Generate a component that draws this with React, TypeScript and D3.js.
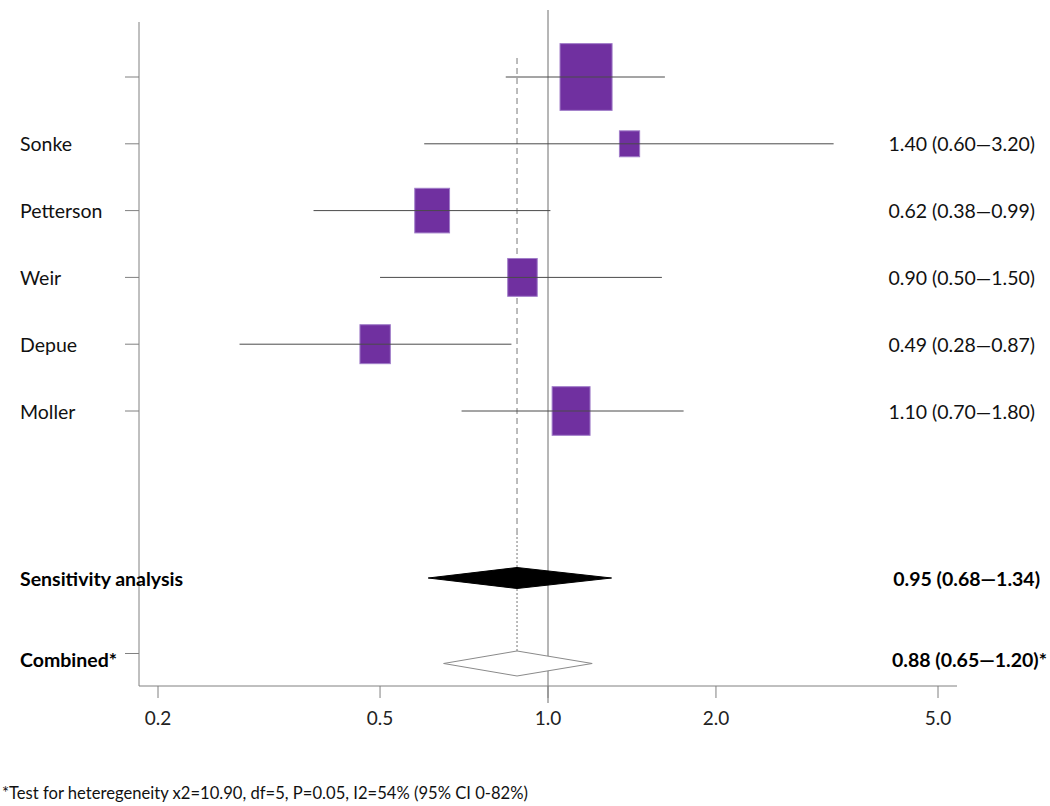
import React from "react";
import * as d3 from "d3";

// ---- data ----
const studyNames = ["", "Sonke", "Petterson", "Weir", "Depue", "Moller"];
const studyEstimates = [1.17, 1.4, 0.62, 0.9, 0.49, 1.1];
const studyLower = [0.84, 0.6, 0.38, 0.5, 0.28, 0.7];
const studyUpper = [1.62, 3.25, 1.01, 1.6, 0.86, 1.75];
const studyWeights = [35.8, 5.4, 16.0, 11.5, 12.2, 19.0];
const studyLabels = ["", "1.40 (0.60\u20143.20)", "0.62 (0.38\u20140.99)", "0.90 (0.50\u20141.50)", "0.49 (0.28\u20140.87)", "1.10 (0.70\u20141.80)"];

const summaryNames = ["Sensitivity analysis", "Combined*"];
const summaryEstimates = [0.88, 0.88];
const summaryLower = [0.61, 0.65];
const summaryUpper = [1.3, 1.2];
const summaryLabels = ["0.95 (0.68\u20141.34)", "0.88 (0.65\u20141.20)*"];
const summaryRows = [7.5, 8.72];

const pooledValue = 0.88;
const xTicks = [0.2, 0.5, 1.0, 2.0, 5.0];
const footnote = "*Test for heteregeneity x2=10.90, df=5, P=0.05, I2=54% (95% CI 0-82%)";

export default function App() {
  const W = 1050, H = 806;
  const x = d3.scaleLog().domain([0.2, 5]).range([158, 938]);
  const y = d3.scaleLinear().domain([0, 5]).range([77, 411]);
  const font = "Lato, 'Open Sans', sans-serif";
  const axisY = 686;
  const axisX = 139;
  const k = 8.7;

  const diamond = (i: number, half: number, dy: number) => {
    const cy = y(summaryRows[i]) + dy;
    return `M${x(summaryLower[i])},${cy} L${x(summaryEstimates[i])},${cy - half} L${x(summaryUpper[i])},${cy} L${x(summaryEstimates[i])},${cy + half} Z`;
  };

  return (
    <svg width={W} height={H} style={{ position: "absolute", left: 0, top: 0, background: "#fff" }} fontFamily={font}>
      {/* reference line at 1 */}
      <line x1={x(1)} x2={x(1)} y1={10} y2={703} stroke="#6e6e6e" strokeWidth={1} />
      {/* pooled dashed line */}
      <line x1={x(pooledValue)} x2={x(pooledValue)} y1={58} y2={533} stroke="#a6a6a6" strokeWidth={1.5} strokeDasharray="6,4" />
      <line x1={x(pooledValue)} x2={x(pooledValue)} y1={533} y2={651} stroke="#777" strokeWidth={1} strokeDasharray="2,2" />

      {/* left axis */}
      <line x1={axisX} x2={axisX} y1={22} y2={axisY} stroke="#808080" strokeWidth={1} />
      {studyNames.map((_, i) => (
        <line key={"lt" + i} x1={axisX - 14} x2={axisX} y1={y(i)} y2={y(i)} stroke="#808080" strokeWidth={1} />
      ))}
      <line x1={axisX - 14} x2={axisX} y1={y(summaryRows[1]) - 6} y2={y(summaryRows[1]) - 6} stroke="#808080" strokeWidth={1} />

      {/* bottom axis */}
      <line x1={axisX} x2={957} y1={axisY} y2={axisY} stroke="#808080" strokeWidth={1} />
      {xTicks.map((t) => (
        <g key={"xt" + t}>
          <line x1={x(t)} x2={x(t)} y1={axisY} y2={axisY + 12} stroke="#808080" strokeWidth={1} />
          <text x={x(t)} y={axisY + 31} textAnchor="middle" dominantBaseline="central" fontSize={19} fill="#222">
            {t.toFixed(1)}
          </text>
        </g>
      ))}

      {/* studies */}
      {studyNames.map((name, i) => {
        const w = k * Math.sqrt(studyWeights[i]);
        const h = w / 0.78;
        const cx = x(studyEstimates[i]);
        const cy = y(i);
        return (
          <g key={"s" + i}>
            <rect x={cx - w / 2} y={cy - h / 2} width={w} height={h} fill="#7030A0" stroke="#a07cc8" strokeWidth={1} />
            <line x1={x(studyLower[i])} x2={x(studyUpper[i])} y1={cy} y2={cy} stroke="#4a4a4a" strokeWidth={1} />
            {name && (
              <text x={20} y={cy} dominantBaseline="central" fontSize={19.5} fill="#111">
                {name}
              </text>
            )}
            {studyLabels[i] && (
              <text x={1035} y={cy} textAnchor="end" dominantBaseline="central" fontSize={19.5} fill="#111">
                {studyLabels[i]}
              </text>
            )}
          </g>
        );
      })}

      {/* summaries */}
      <path d={diamond(0, 10.5, 0)} fill="#000" stroke="#000" strokeWidth={1} />
      <path d={diamond(1, 12.5, 4)} fill="#fff" stroke="#8a8a8a" strokeWidth={1} />
      {summaryNames.map((name, i) => (
        <g key={"sum" + i}>
          <text x={20} y={y(summaryRows[i])} dominantBaseline="central" fontSize={19.5} fontWeight="bold" fill="#000">
            {name}
          </text>
          <text x={i === 0 ? 1040 : 1047} y={y(summaryRows[i])} textAnchor="end" dominantBaseline="central" fontSize={19.5} fontWeight="bold" fill="#000">
            {summaryLabels[i]}
          </text>
        </g>
      ))}

      <text x={2} y={793} dominantBaseline="central" fontSize={16.6} fill="#111">
        {footnote}
      </text>
    </svg>
  );
}
